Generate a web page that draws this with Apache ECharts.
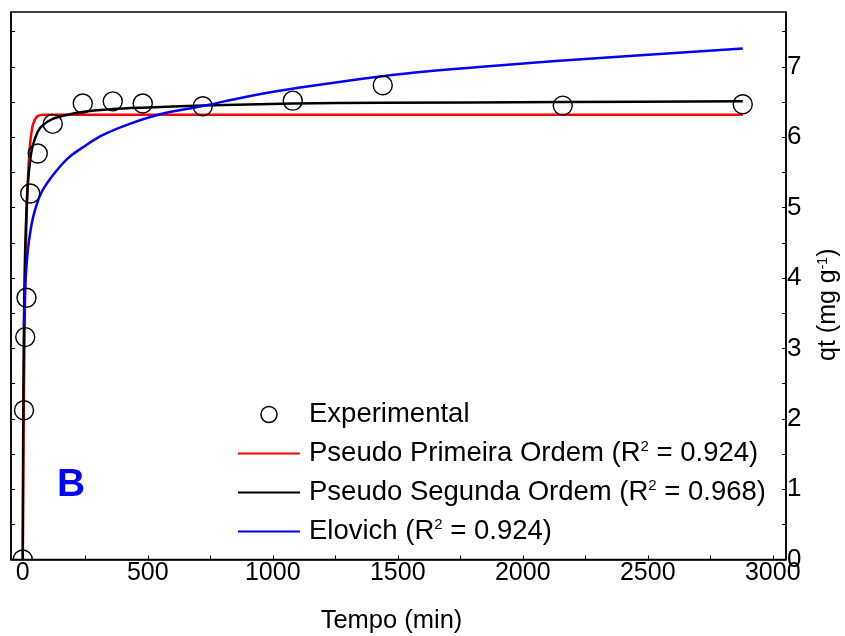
<!DOCTYPE html>
<html>
<head>
<meta charset="utf-8">
<script src="https://cdn.jsdelivr.net/npm/echarts@6/dist/echarts.min.js"></script>
<style>
  html, body { margin: 0; padding: 0; background: #fff; }
  #chart { width: 845px; height: 636px; }
</style>
</head>
<body>
<div id="chart"></div>
<script>
// Experimental kinetics: contact time (min) vs adsorbed amount qt (mg/g)
const tempoExp = [0, 5, 10, 15, 30, 60, 120, 240, 360, 480, 720, 1080, 1440, 2160, 2880];
const qtExp = [0, 2.12, 3.16, 3.72, 5.20, 5.77, 6.19, 6.48, 6.51, 6.48, 6.44, 6.52, 6.74, 6.45, 6.47];

// Pseudo-first-order fitted curve
const tempoPPO = [0, 2, 4, 6, 8, 10, 15, 20, 25, 30, 35, 40, 50, 60, 80, 120, 2880];
const qtPPO = [0, 1.10, 2.05, 2.80, 3.40, 3.90, 4.80, 5.35, 5.70, 5.93, 6.07, 6.17, 6.26, 6.30, 6.32, 6.32, 6.32];

// Pseudo-second-order fitted curve
const tempoPSO = [0, 1, 2, 3, 4, 6, 8, 10, 15, 20, 30, 40, 60, 80, 120, 180, 240, 360, 480, 720, 1080, 1440, 2160, 2880];
const qtPSO = [0, 1.20, 2.00, 2.60, 3.05, 3.70, 4.12, 4.45, 4.98, 5.32, 5.68, 5.88, 6.08, 6.17, 6.26, 6.32, 6.36, 6.40, 6.42, 6.45, 6.48, 6.49, 6.50, 6.51];

// Elovich fitted curve
const tempoElov = [5, 8, 12, 20, 30, 44, 70, 112, 180, 250, 313, 420, 553, 714, 900, 1115, 1516, 2160, 2880];
const qtElov = [3.33, 3.72, 4.02, 4.38, 4.65, 4.90, 5.18, 5.42, 5.70, 5.88, 6.02, 6.18, 6.33, 6.44, 6.58, 6.71, 6.90, 7.09, 7.26];

// Axis tick labels
const xTicks = [0, 500, 1000, 1500, 2000, 2500, 3000];
const xMinorTicks = [0, 250, 500, 750, 1000, 1250, 1500, 1750, 2000, 2250, 2500, 2750, 3000];
const yTicks = [0, 1, 2, 3, 4, 5, 6, 7];
const yMinorTicks = [0, 0.5, 1, 1.5, 2, 2.5, 3, 3.5, 4, 4.5, 5, 5.5, 6, 6.5, 7, 7.5];

const nomeExp = 'Experimental';
const nomePPO = 'Pseudo Primeira Ordem (R² = 0.924)';
const nomePSO = 'Pseudo Segunda Ordem (R² = 0.968)';
const nomeElov = 'Elovich (R² = 0.924)';

const FONT = '"Liberation Sans", Arial, sans-serif';

const pares = (xs, ys) => xs.map((x, i) => [x, ys[i]]);

const chart = echarts.init(document.getElementById('chart'), null, { renderer: 'canvas' });

const option = {
  animation: false,
  backgroundColor: '#ffffff',
  textStyle: { fontFamily: FONT },
  grid: {
    left: 11, right: 59, top: 12, bottom: 76.5,
    outerBoundsMode: 'none', containLabel: false,
    show: true, borderColor: '#000', borderWidth: 1.5, backgroundColor: 'transparent'
  },
  xAxis: {
    type: 'value', min: -47, max: 3053,
    name: 'Tempo (min)', nameLocation: 'middle', nameGap: 48,
    nameTextStyle: { fontSize: 25.5, color: '#000', fontFamily: FONT, padding: [0, 14, 0, 0] },
    axisLine: { show: true, onZero: false, lineStyle: { color: '#000', width: 1.5 } },
    axisTick: { show: true, inside: true, length: 4, customValues: xMinorTicks, lineStyle: { color: '#000', width: 1 } },
    axisLabel: {
      customValues: xTicks, fontSize: 25, color: '#000', margin: 1, fontFamily: FONT,
      formatter: (v) => String(v)
    },
    splitLine: { show: false }
  },
  yAxis: [
    {
      type: 'value', min: 0, max: 7.78, position: 'left',
      axisLine: { show: true, onZero: false, lineStyle: { color: '#000', width: 1.5 } },
      axisTick: { show: true, inside: true, length: 4, customValues: yMinorTicks, lineStyle: { color: '#000', width: 1 } },
      axisLabel: { show: false },
      splitLine: { show: false }
    },
    {
      type: 'value', min: 0, max: 7.78, position: 'right',
      name: 'qt (mg g{s|-1})', nameLocation: 'middle', nameGap: 30, nameRotate: 90,
      nameTextStyle: {
        fontSize: 25, color: '#000', fontFamily: FONT, padding: [0, 38, 0, 0],
        rich: { s: { fontSize: 14, verticalAlign: 'top', color: '#000', fontFamily: FONT } }
      },
      axisLine: { show: true, onZero: false, lineStyle: { color: '#000', width: 1.5 } },
      axisTick: { show: true, inside: true, length: 4, customValues: yMinorTicks, lineStyle: { color: '#000', width: 1 } },
      axisLabel: { customValues: yTicks, fontSize: 26, color: '#000', margin: 1, fontFamily: FONT },
      splitLine: { show: false }
    }
  ],
  legend: {
    orient: 'vertical', left: 237, top: 400, padding: 0,
    itemWidth: 62, itemHeight: 16, itemGap: 10,
    data: [
      { name: nomeExp, icon: 'circle', itemStyle: { color: '#fff', borderColor: '#000', borderWidth: 1.5 } },
      { name: nomePPO, itemStyle: { opacity: 0 }, lineStyle: { width: 2 } },
      { name: nomePSO, itemStyle: { opacity: 0 }, lineStyle: { width: 2 } },
      { name: nomeElov, itemStyle: { opacity: 0 }, lineStyle: { width: 2 } }
    ],
    formatter: (n) => n.replace('²', '{s|2}'),
    textStyle: {
      fontSize: 27.5, color: '#000', fontFamily: FONT, lineHeight: 29, padding: [0, 0, 0, 4],
      rich: { s: { fontSize: 15, verticalAlign: 'top', lineHeight: 29, color: '#000', fontFamily: FONT } }
    }
  },
  graphic: [
    {
      type: 'text', left: 57, top: 466,
      style: { text: 'B', fill: '#0000ff', font: 'bold 39px ' + FONT }
    }
  ],
  series: [
    {
      name: nomePPO, type: 'line', yAxisIndex: 1, symbol: 'none',
      data: pares(tempoPPO, qtPPO), smooth: 0.3,
      lineStyle: { color: '#ff0000', width: 2.5 }, itemStyle: { color: '#ff0000' }, z: 3
    },
    {
      name: nomePSO, type: 'line', yAxisIndex: 1, symbol: 'none',
      data: pares(tempoPSO, qtPSO), smooth: 0.3,
      lineStyle: { color: '#000000', width: 2.5 }, itemStyle: { color: '#000000' }, z: 4
    },
    {
      name: nomeElov, type: 'line', yAxisIndex: 1, symbol: 'none',
      data: pares(tempoElov, qtElov), smooth: 0.3,
      lineStyle: { color: '#0000ff', width: 2.5 }, itemStyle: { color: '#0000ff' }, z: 5
    },
    {
      name: nomeExp, type: 'custom', yAxisIndex: 1, clip: true,
      itemStyle: { color: '#000' },
      data: pares(tempoExp, qtExp),
      renderItem: (params, api) => {
        const p = api.coord([api.value(0), api.value(1)]);
        return {
          type: 'circle',
          shape: { cx: p[0], cy: p[1], r: 9.5 },
          style: { fill: 'none', stroke: '#000', lineWidth: 1.4 }
        };
      },
      z: 6
    }
  ]
};

chart.setOption(option);
</script>
</body>
</html>
